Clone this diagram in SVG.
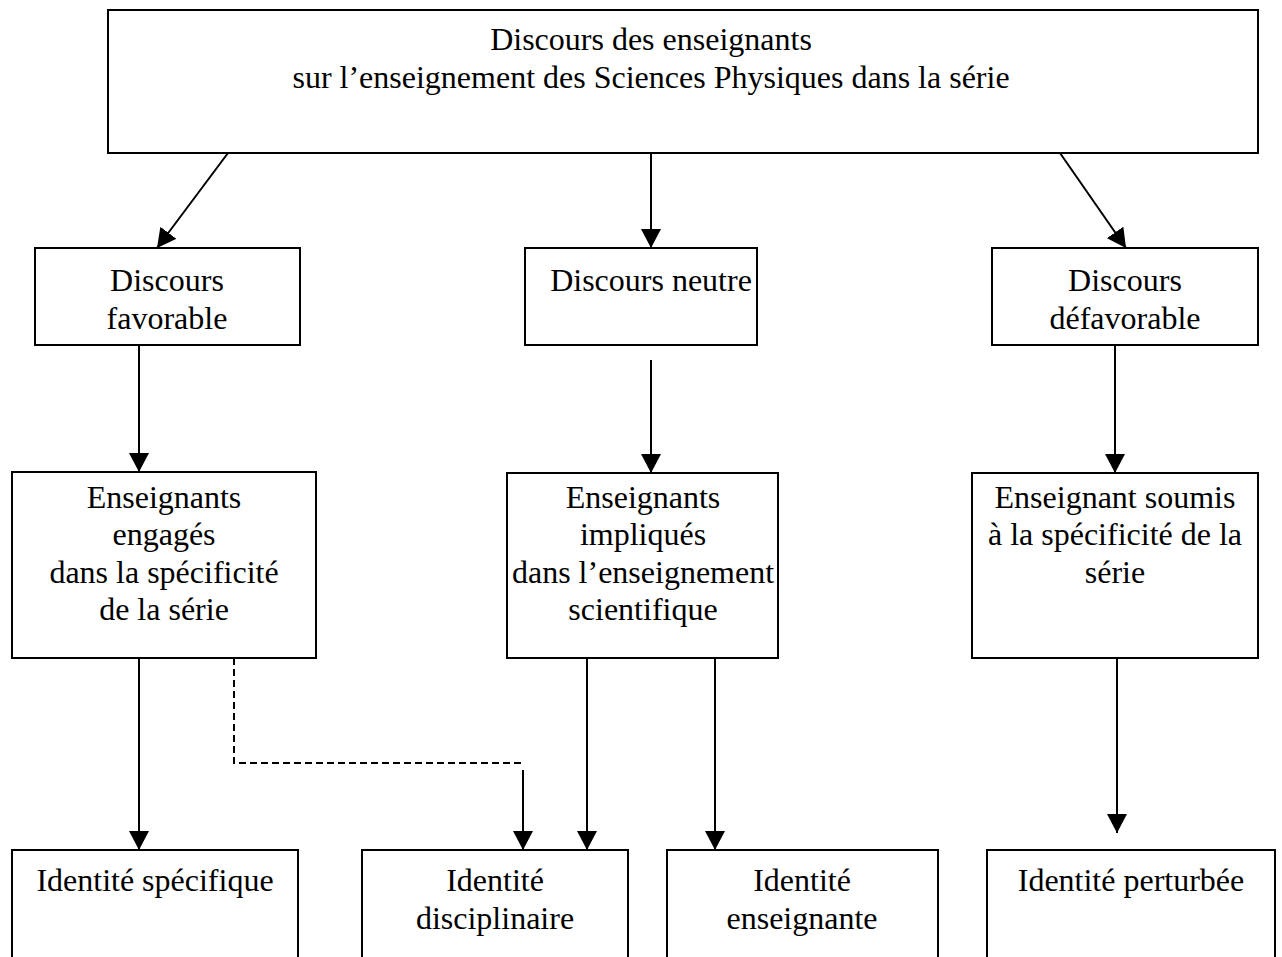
<svg xmlns="http://www.w3.org/2000/svg" width="1282" height="957" viewBox="0 0 1282 957">
<style>
.box{fill:#fff;stroke:#000;stroke-width:2}
.t{font-family:"Liberation Serif","Times New Roman",serif;font-size:32px;fill:#000;text-anchor:middle}
.c{stroke:#000;stroke-width:2;fill:none}
.d{stroke:#000;stroke-width:2;fill:none;stroke-dasharray:7,4}
</style>
<defs>
<marker id="ah" viewBox="0 0 19 20" refX="19" refY="10" markerWidth="19" markerHeight="20" markerUnits="userSpaceOnUse" orient="auto">
<path d="M0,0 L19,10 L0,20 z" fill="#000"/>
</marker>
</defs>
<rect width="1282" height="957" fill="#fff"/>
<g id="n-top">
<rect class="box" x="108" y="10" width="1150" height="143"/>
<text class="t" x="651" y="50">Discours des enseignants</text>
<text class="t" x="651" y="88">sur l’enseignement des Sciences Physiques dans la série</text>
</g>
<g id="n-fav">
<rect class="box" x="35" y="248" width="265" height="97"/>
<text class="t" x="167" y="291">Discours</text>
<text class="t" x="167" y="329">favorable</text>
</g>
<g id="n-neu">
<rect class="box" x="525" y="248" width="232" height="97"/>
<text class="t" x="651" y="291">Discours neutre</text>
</g>
<g id="n-def">
<rect class="box" x="992" y="248" width="266" height="97"/>
<text class="t" x="1125" y="291">Discours</text>
<text class="t" x="1125" y="329">défavorable</text>
</g>
<g id="n-eng">
<rect class="box" x="12" y="472" width="304" height="186"/>
<text class="t" x="164" y="508">Enseignants</text>
<text class="t" x="164" y="545">engagés</text>
<text class="t" x="164" y="583">dans la spécificité</text>
<text class="t" x="164" y="620">de la série</text>
</g>
<g id="n-imp">
<rect class="box" x="507" y="473" width="271" height="185"/>
<text class="t" x="643" y="508">Enseignants</text>
<text class="t" x="643" y="545">impliqués</text>
<text class="t" x="643" y="583">dans l’enseignement</text>
<text class="t" x="643" y="620">scientifique</text>
</g>
<g id="n-sou">
<rect class="box" x="972" y="473" width="286" height="185"/>
<text class="t" x="1115" y="508">Enseignant soumis</text>
<text class="t" x="1115" y="545">à la spécificité de la</text>
<text class="t" x="1115" y="583">série</text>
</g>
<g id="n-spe">
<rect class="box" x="12" y="850" width="286" height="120"/>
<text class="t" x="155" y="891">Identité spécifique</text>
</g>
<g id="n-dis">
<rect class="box" x="362" y="850" width="266" height="120"/>
<text class="t" x="495" y="891">Identité</text>
<text class="t" x="495" y="929">disciplinaire</text>
</g>
<g id="n-ens">
<rect class="box" x="667" y="850" width="271" height="120"/>
<text class="t" x="802" y="891">Identité</text>
<text class="t" x="802" y="929">enseignante</text>
</g>
<g id="n-per">
<rect class="box" x="987" y="850" width="288" height="120"/>
<text class="t" x="1131" y="891">Identité perturbée</text>
</g>
<g id="connectors">
<line class="c" x1="228" y1="153" x2="157" y2="248" marker-end="url(#ah)"/>
<line class="c" x1="651" y1="153" x2="651" y2="248" marker-end="url(#ah)"/>
<line class="c" x1="1060" y1="153" x2="1126" y2="248" marker-end="url(#ah)"/>
<line class="c" x1="139" y1="345" x2="139" y2="472" marker-end="url(#ah)"/>
<line class="c" x1="651" y1="360" x2="651" y2="473" marker-end="url(#ah)"/>
<line class="c" x1="1115" y1="345" x2="1115" y2="473" marker-end="url(#ah)"/>
<line class="c" x1="139" y1="658" x2="139" y2="850" marker-end="url(#ah)"/>
<polyline class="d" points="234,658 234,763 524,763"/>
<line class="c" x1="523" y1="770" x2="523" y2="850" marker-end="url(#ah)"/>
<line class="c" x1="587" y1="658" x2="587" y2="850" marker-end="url(#ah)"/>
<line class="c" x1="715" y1="658" x2="715" y2="850" marker-end="url(#ah)"/>
<line class="c" x1="1117" y1="658" x2="1117" y2="833" marker-end="url(#ah)"/>
</g>
</svg>
